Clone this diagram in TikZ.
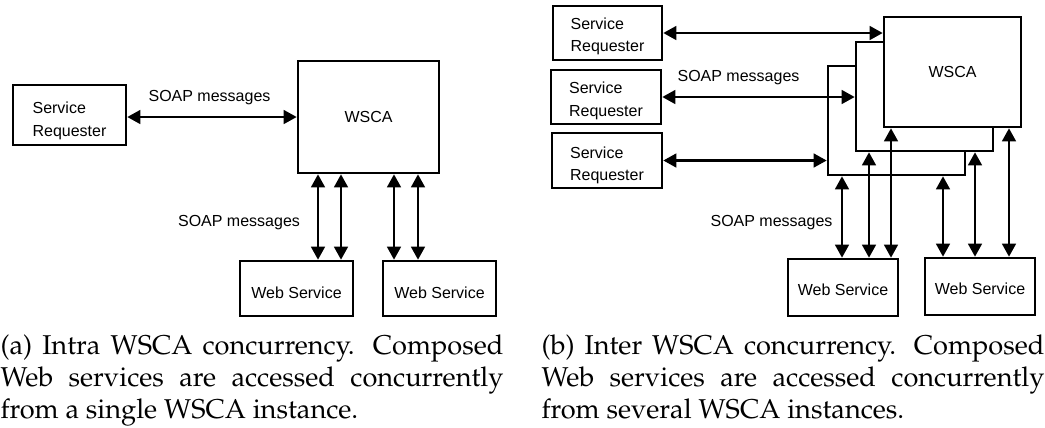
\documentclass[tikz,border=0pt]{standalone}
\usepackage[T1]{fontenc}
\usepackage{fontspec}
\setsansfont{Liberation Sans}
\usepackage{tikz}
\usetikzlibrary{calc,arrows.meta}
\newcommand{\capfont}{\usefont{T1}{ppl}{m}{n}\fontsize{10.2}{12}\selectfont}
\tikzset{
	sz/.style 2 args={minimum width=#1*0.375pt, minimum height=#2*0.375pt},
	box/.style={draw, line width=1pt, fill=white, inner sep=0pt, font=\sffamily\fontsize{6}{8.4}\selectfont},
	high/.style={text height=#1, text depth=0pt},
	link/.style={line width=0.8pt, {Triangle[length=4.9pt,width=5.2pt]}-{Triangle[length=4.9pt,width=5.2pt]}},
	lbl/.style={inner sep=0pt, font=\sffamily\fontsize{6}{7}\selectfont},
	captext/.style={anchor=north west, inner sep=0pt, text width=188.6pt, align=justify, font=\capfont}
}

\begin{document}
\begin{tikzpicture}[x=0.375pt,y=-0.375pt]
			%%%%% START %%%%%
			\useasboundingbox (0,0) rectangle (1045,427);
			
			% (a) one WSCA
			\node[box, sz={113}{60}, align=left, high=15.8pt] (req) at (69.5,115) {Service\\Requester};
			\node[box, sz={141}{112}] (wsca) at (368.5,117) {WSCA};
			\node[box, sz={113}{55}, high=7.8pt] (web1) at (296.5,288.5) {Web Service};
			\node[box, sz={113}{55}, high=7.8pt] (web2) at (439.5,288.5) {Web Service};
			
			\draw[link] (req.east |- wsca.west) -- (wsca.west);
			\coordinate (pa1) at ($(web1.north)+(21.5,0)$);
			\coordinate (pa2) at ($(web1.north)+(44.5,0)$);
			\coordinate (pa3) at ($(web2.north)+(-45.5,0)$);
			\coordinate (pa4) at ($(web2.north)+(-21.5,0)$);
			\draw[link] (pa1 |- wsca.south) -- (pa1);
			\draw[link] (pa2 |- wsca.south) -- (pa2);
			\draw[link] (pa3 |- wsca.south) -- (pa3);
			\draw[link] (pa4 |- wsca.south) -- (pa4);
			
			\node[lbl] (soapa1) at (209.5,98) {SOAP messages};
			\node[lbl] (soapa2) at (239,223) {SOAP messages};
			
			% (b) several WSCA
			\node[box, sz={109}{54}, align=left, high=14pt] (req1) at (607.5,33) {Service\\Requester};
			\node[box, sz={110}{54}, align=left, high=14.4pt] (req2) at (606,97) {Service\\Requester};
			\node[box, sz={110}{55}, align=left, high=15pt] (req3) at (607,160.5) {Service\\Requester};
			\node[box, sz={137}{109}] (back) at (896.5,120.5) {};
			\node[box, sz={137}{109}] (mid) at (924.5,96.5) {};
			\node[box, sz={137}{110}] (front) at (952.5,72) {WSCA};
			\node[box, sz={110}{57}, high=6.3pt] (web3) at (843,287.5) {Web Service};
			\node[box, sz={110}{57}, high=6.3pt] (web4) at (980,286.5) {Web Service};
			
			\draw[link] (req1.east) -- (front.west |- req1.east);
			\draw[link] (req2.east) -- (mid.west |- req2.east);
			\draw[link] (req3.east) -- (back.west |- req3.east);
			
			\coordinate (pb1) at ($(web3.north)+(-1,0)$);
			\coordinate (pb2) at ($(web3.north)+(26,0)$);
			\coordinate (pb3) at ($(web3.north)+(48,0)$);
			\coordinate (pb4) at ($(web4.north)+(-37,0)$);
			\coordinate (pb5) at ($(web4.north)+(-5,0)$);
			\coordinate (pb6) at ($(web4.north)+(29,0)$);
			\draw[link] (pb1 |- back.south) -- (pb1);
			\draw[link] (pb2 |- mid.south) -- (pb2);
			\draw[link] (pb3 |- front.south) -- (pb3);
			\draw[link] (pb4 |- back.south) -- (pb4);
			\draw[link] (pb5 |- mid.south) -- (pb5);
			\draw[link] (pb6 |- front.south) -- (pb6);
			
			\node[lbl] (soapb1) at (738.5,78) {SOAP messages};
			\node[lbl] (soapb2) at (771.5,223) {SOAP messages};
			
			% captions
			\node[captext] (capa) at (0,334) {(a) Intra WSCA concurrency. Composed\linebreak Web services are accessed concurrently\linebreak from a single WSCA instance.};
			\node[captext] (capb) at (541,334) {(b) Inter WSCA concurrency. Composed\linebreak Web services are accessed concurrently\linebreak from several WSCA instances.};
			
			%%%%% END %%%%%
\end{tikzpicture}
\end{document}
